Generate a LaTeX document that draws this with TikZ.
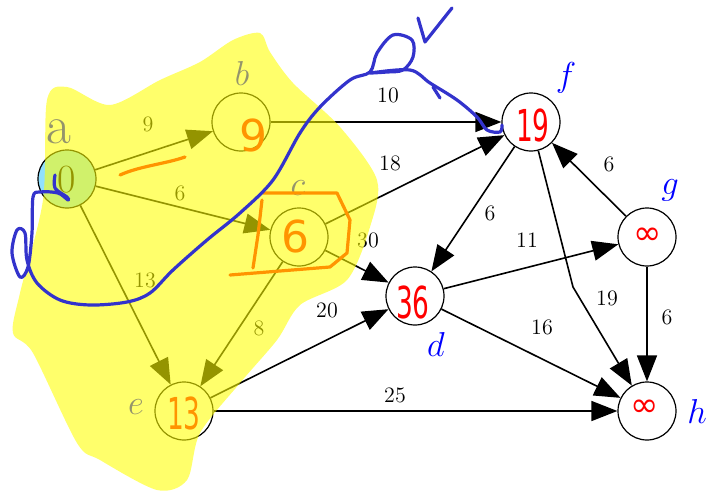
\documentclass[tikz,border=0pt]{standalone}
\usepackage{fontspec}
\usetikzlibrary{arrows.meta}
\newfontfamily\handfont{DejaVu Sans}
\definecolor{penred}{HTML}{FF0000}
\definecolor{penblue}{HTML}{3333CC}
\definecolor{markyellow}{HTML}{FFFF00}
\definecolor{startfill}{HTML}{90E0FF}
\newcommand{\squeezed}[1]{\scalebox{0.6}[1]{#1}}

\begin{document}
\begin{tikzpicture}[
  x=0.5pt, y=-0.5pt,
  line width=0.8pt,
  vertex/.style={circle, draw, line width=0.6pt, fill=white, minimum size=29pt, inner sep=0pt},
  vname/.style={text=blue, inner sep=0pt, font=\fontsize{19}{19}\selectfont},
  weight/.style={inner sep=1pt, font=\fontsize{11}{13}\selectfont},
  dist/.style={text=penred, inner sep=0pt, font=\handfont\fontsize{22}{22}\selectfont},
  flow/.style={-{Triangle[length=13pt,width=10pt]}},
  scrawl/.style={line width=1.6pt, line cap=round, line join=round}
]
  \useasboundingbox (0,0) rectangle (708,493);

  % vertices
  \node[vertex, fill=startfill] (a) at (67,179) {};
  \node[vertex] (b) at (241,122) {};
  \node[vertex] (c) at (299,237) {};
  \node[vertex] (d) at (415,296) {};
  \node[vertex] (e) at (184,411) {};
  \node[vertex] (f) at (531,122) {};
  \node[vertex] (g) at (647,237) {};
  \node[vertex] (h) at (647,411) {};
  \coordinate (bend) at (573,287);

  % edges
  \draw[flow] (a) -- (b);
  \draw[flow] (a) -- (c);
  \draw[flow] (a) -- (e);
  \draw[flow] (b) -- (f);
  \draw[flow] (c) -- (f);
  \draw[flow] (c) -- (d);
  \draw[flow] (c) -- (e);
  \draw[flow] (e) -- (d);
  \draw[flow] (e) -- (h);
  \draw[flow] (f) -- (d);
  \draw[flow] (f) -- (bend) -- (h);
  \draw[flow] (d) -- (g);
  \draw[flow] (d) -- (h);
  \draw[flow] (g) -- (f);
  \draw[flow] (g) -- (h);

  % weights
  \node[weight] (w-ab) at (148,124) {9};
  \node[weight] (w-ac) at (180,193) {6};
  \node[weight] (w-ae) at (145,280) {13};
  \node[weight] (w-bf) at (388,95) {10};
  \node[weight] (w-cf) at (390,163) {18};
  \node[weight] (w-cd) at (368,240) {30};
  \node[weight] (w-ce) at (259,328) {8};
  \node[weight] (w-ed) at (327,310) {20};
  \node[weight] (w-eh) at (395,395) {25};
  \node[weight] (w-fd) at (490,213) {6};
  \node[weight] (w-dg) at (527,240) {11};
  \node[weight] (w-dh) at (542,327) {16};
  \node[weight] (w-fh) at (607,298) {19};
  \node[weight] (w-gh) at (667,317) {6};
  \node[weight] (w-gf) at (609,164) {6};

  % vertex names
  \node[vname, font=\fontsize{27}{27}\selectfont] (la) at (59,132) {a};
  \node[vname] (lb) at (242,73) {$b$};
  \node[vname] (lc) at (298,188) {$c$};
  \node[vname] (ld) at (436,344) {$d$};
  \node[vname] (le) at (136,407) {$e$};
  \node[vname] (lf) at (566,78) {$f$};
  \node[vname] (lg) at (670,190) {$g$};
  \node[vname] (lh) at (697,411) {$h$};

  % distances
  \node[inner sep=0pt, font=\fontsize{20}{20}\selectfont] (va) at (67,180) {0};
  \node[dist] (vb) at (253,135) {9};
  \node[dist] (vc) at (295,236) {6};
  \node[dist] (vd) at (413,302) {\squeezed{36}};
  \node[dist] (ve) at (184,413) {\squeezed{13}};
  \node[dist] (vf) at (533,125) {\squeezed{19}};
  \node[dist, font=\handfont\fontsize{17}{17}\selectfont] (vg) at (648,236) {∞};
  \node[dist, font=\handfont\fontsize{17}{17}\selectfont] (vh) at (645,408) {∞};

  % red pen marks
  \draw[penred, scrawl] (120,175) .. controls (140,166) and (165,164) .. (185,157);
  \draw[penred, scrawl] (263,193) -- (337,193) -- (350,220) -- (347,253) -- (330,267) -- (280,271) -- (230,275);
  \draw[penred, scrawl] (262,200) -- (258,235) -- (253,268);

  % highlighter
  \fill[markyellow, opacity=0.58] plot[smooth cycle, tension=0.5] coordinates {
    (260,33) (270,52) (293,83) (340,127) (377,180) (370,227) (347,280)
    (300,305) (277,340) (240,383) (200,433) (187,480) (157,490) (100,460)
    (77,443) (33,353) (13,333) (20,293) (43,200) (47,100) (67,87)
    (110,105) (160,80) (200,62) (233,40)};

  % blue pen
  \draw[penblue, scrawl] plot[smooth, tension=0.55] coordinates {
    (55,175) (55,188) (67,197) (68,200) (58,193) (40,192) (33,197)
    (32,233) (28,267) (20,277) (12,253) (17,230) (25,233) (27,260)
    (37,283) (60,300) (90,305) (127,302) (150,293) (173,270) (207,240)
    (240,213) (273,180) (300,133) (320,107) (350,80) (370,72) (377,53)
    (393,35) (412,40) (413,57) (403,70) (387,72) (370,73) (410,70)
    (430,83) (457,100) (477,117) (487,130) (500,132) (502,125)};
  \draw[penblue, scrawl] (433,87) -- (440,98);
  \draw[penblue, scrawl] (418,18) -- (425,42) -- (452,8);
\end{tikzpicture}
\end{document}
